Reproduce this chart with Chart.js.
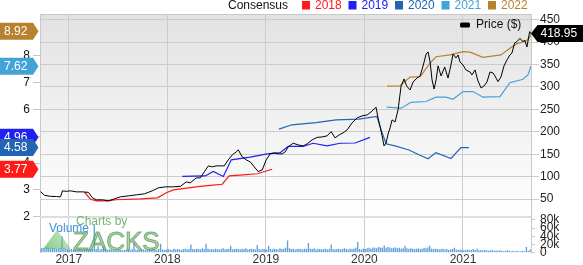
<!DOCTYPE html>
<html>
<head>
<meta charset="utf-8">
<script src="https://cdn.jsdelivr.net/npm/chart.js@4.4.0/dist/chart.umd.min.js"></script>
<style>
  html, body { margin: 0; padding: 0; background: #fff; }
  canvas { display: block; }
</style>
</head>
<body>
<canvas id="chart" width="583" height="265"></canvas>
<script>
/* ---------- data (x = decimal year) ---------- */

const yearTicks = [2017, 2018, 2019, 2020, 2021];
const priceTicks = [50, 100, 150, 200, 250, 300, 350, 400, 450];
const epsTicks = [2, 3, 4, 5, 6, 7, 8];
const volTicks = [0, 20000, 40000, 60000, 80000];

const priceX = [2016.713, 2016.754, 2016.815, 2016.875, 2016.916, 2016.936, 2016.977, 2017.017, 2017.078, 2017.139,
  2017.2, 2017.24, 2017.281, 2017.342, 2017.403, 2017.464, 2017.524, 2017.605, 2017.686, 2017.767,
  2017.848, 2017.909, 2017.98, 2018.051, 2018.132, 2018.193, 2018.233, 2018.294, 2018.335, 2018.375,
  2018.416, 2018.456, 2018.497, 2018.537, 2018.578, 2018.618, 2018.659, 2018.699, 2018.72, 2018.76,
  2018.801, 2018.841, 2018.882, 2018.922, 2018.963, 2019.003, 2019.044, 2019.084, 2019.125, 2019.165,
  2019.196, 2019.226, 2019.277, 2019.327, 2019.378, 2019.419, 2019.469, 2019.52, 2019.571, 2019.621,
  2019.662, 2019.702, 2019.743, 2019.783, 2019.824, 2019.874, 2019.925, 2019.976, 2020.027, 2020.067,
  2020.098, 2020.118, 2020.138, 2020.159, 2020.179, 2020.199, 2020.22, 2020.24, 2020.26, 2020.28,
  2020.311, 2020.341, 2020.372, 2020.402, 2020.428, 2020.463, 2020.494, 2020.534, 2020.565, 2020.595,
  2020.626, 2020.646, 2020.666, 2020.686, 2020.707, 2020.727, 2020.747, 2020.778, 2020.814, 2020.848,
  2020.878, 2020.899, 2020.929, 2020.95, 2020.97, 2021.0, 2021.03, 2021.071, 2021.091, 2021.122,
  2021.152, 2021.183, 2021.213, 2021.243, 2021.274, 2021.304, 2021.324, 2021.355, 2021.385, 2021.416,
  2021.446, 2021.476, 2021.497, 2021.524, 2021.547, 2021.578, 2021.608, 2021.625, 2021.649, 2021.676,
  2021.689];
const priceY = [66.8, 58.4, 56.1, 55.7, 55.0, 68.4, 67.3, 68.4, 66.1, 66.1,
  65.0, 52.8, 48.3, 48.3, 46.1, 50.6, 55.0, 57.2, 59.5, 61.7,
  68.4, 75.1, 77.3, 77.3, 78.4, 88.4, 86.2, 97.3, 97.3, 110.7,
  124.1, 121.8, 124.1, 124.1, 124.1, 137.4, 148.6, 155.2, 159.7, 144.1,
  137.4, 133.0, 121.8, 111.4, 115.1, 137.4, 150.8, 153.0, 150.8, 150.8,
  155.2, 166.4, 174.6, 170.8, 168.6, 173.0, 182.0, 187.5, 188.6, 190.9,
  200.4, 186.4, 193.1, 197.6, 204.2, 219.8, 231.0, 235.4, 237.6, 244.3,
  251.0, 254.8, 231.0, 210.9, 190.9, 168.6, 175.3, 195.3, 208.7, 226.5,
  222.0, 248.8, 302.2, 317.8, 302.2, 293.3, 311.1, 320.0, 324.5, 346.8,
  373.5, 378.0, 355.7, 315.6, 295.5, 315.6, 346.8, 324.5, 344.5, 320.0,
  349.0, 373.5, 364.6, 371.3, 355.7, 349.0, 337.9, 333.4, 326.7, 337.9,
  313.4, 297.8, 302.2, 311.1, 333.4, 331.2, 324.5, 311.8, 322.3, 346.8,
  360.1, 371.3, 375.7, 398.0, 400.9, 408.5, 400.9, 404.7, 389.1, 423.2,
  418.95];

// consensus EPS estimates per fiscal year
const eps2018X = [2017.16, 2017.22, 2017.281, 2017.403, 2017.474, 2017.727, 2017.899, 2017.99, 2018.061,
  2018.233, 2018.335, 2018.436, 2018.557, 2018.628, 2018.77, 2018.912, 2019.064];
const eps2018Y = [2.91, 2.65, 2.59, 2.59, 2.63, 2.66, 2.70, 2.89, 3.00, 3.08, 3.13, 3.17, 3.21, 3.52, 3.56, 3.60, 3.77];

const eps2019X = [2018.152, 2018.385, 2018.466, 2018.568, 2018.649, 2018.841, 2019.013, 2019.145, 2019.226,
  2019.378, 2019.479, 2019.621, 2019.753, 2019.905, 2020.057];
const eps2019Y = [3.50, 3.52, 3.69, 3.50, 4.12, 4.22, 4.34, 4.39, 4.62, 4.62, 4.74, 4.64, 4.74, 4.75, 4.96];

const eps2020X = [2019.132, 2019.264, 2019.508, 2019.711, 2019.944, 2020.127, 2020.169, 2020.22, 2020.31,
  2020.452, 2020.553, 2020.645, 2020.726, 2020.878, 2020.979, 2021.06];
const eps2020Y = [5.27, 5.43, 5.51, 5.61, 5.64, 5.74, 5.24, 4.72, 4.64, 4.49, 4.31, 4.16, 4.39, 4.17, 4.58, 4.58];

const eps2021X = [2020.225, 2020.372, 2020.473, 2020.625, 2020.726, 2020.827, 2020.899, 2021.0, 2021.101,
  2021.203, 2021.375, 2021.476, 2021.608, 2021.659, 2021.689];
const eps2021Y = [6.09, 6.05, 6.27, 6.30, 6.46, 6.46, 6.38, 6.67, 6.67, 6.46, 6.48, 7.00, 7.13, 7.29, 7.62];

const eps2022X = [2020.23, 2020.361, 2020.463, 2020.565, 2020.666, 2020.727, 2020.869, 2021.0, 2021.071,
  2021.203, 2021.385, 2021.476, 2021.543, 2021.645, 2021.686, 2021.689];
const eps2022Y = [6.87, 6.88, 7.21, 7.23, 7.73, 7.97, 8.04, 8.16, 8.14, 7.95, 8.04, 8.29, 8.45, 8.57, 8.75, 8.92];

// weekly volume, thousands of shares
const volStart = 2016.72;
const volume = [
  11, 12, 10, 13, 11, 10, 12, 11, 9, 10, 12, 40, 11,
  10, 9, 8, 9, 7, 8, 7, 9, 8, 7, 8, 9, 7,
  8, 9, 68, 9, 16, 8, 9, 17, 8, 7, 9, 8, 7,
  7, 6, 8, 7, 6, 7, 8, 7, 6, 9, 24, 8, 7,
  6, 7, 8, 7, 6, 8, 7, 9, 8, 7, 9, 22, 8,
  7, 8, 9, 8, 7, 10, 8, 9, 8, 7, 9, 10, 8,
  9, 20, 9, 8, 10, 9, 8, 11, 9, 22, 10, 8, 9,
  8, 10, 9, 8, 9, 11, 8, 9, 10, 17, 8, 9, 10,
  9, 8, 10, 9, 11, 8, 9, 10, 9, 8, 19, 9, 8,
  10, 9, 8, 17, 9, 8, 10, 9, 8, 11, 9, 10, 12,
  30, 11, 9, 10, 8, 9, 10, 9, 8, 10, 9, 24, 10,
  9, 11, 8, 10, 9, 8, 9, 10, 8, 9, 20, 9, 8,
  9, 10, 8, 9, 11, 9, 8, 10, 9, 10, 12, 26, 9,
  8, 10, 9, 11, 12, 10, 13, 12, 11, 14, 13, 12, 18,
  12, 14, 13, 11, 12, 13, 11, 12, 10, 11, 17, 11, 10,
  11, 10, 9, 10, 11, 9, 10, 12, 11, 13, 17, 10, 9,
  10, 9, 8, 9, 10, 8, 9, 7, 8, 9, 12, 8, 7,
  8, 7, 6, 7, 8, 6, 7, 9, 7, 10, 6, 7, 6,
  7, 6, 5, 6, 7, 5, 6, 5, 6, 5, 4, 5, 6,
  5, 4, 5, 4, 5, 4, 4, 5, 4, 14, 5, 8
];

/* ---------- series setup ---------- */

const zip = (xs, ys) => xs.map((x, i) => ({ x, y: ys[i] }));

const epsSeries = [
  { label: '2018', color: '#ff1a1a', x: eps2018X, y: eps2018Y },
  { label: '2019', color: '#2020f2', x: eps2019X, y: eps2019Y },
  { label: '2020', color: '#2464b4', x: eps2020X, y: eps2020Y },
  { label: '2021', color: '#42a3d8', x: eps2021X, y: eps2021Y },
  { label: '2022', color: '#b8812f', x: eps2022X, y: eps2022Y }
];

const FONT = '"Liberation Sans", Arial, sans-serif';
Chart.defaults.font.family = FONT;
Chart.defaults.font.size = 12;

const datasets = [
  {
    type: 'line', label: 'Price ($)', data: zip(priceX, priceY), yAxisID: 'yPrice',
    borderColor: '#000', borderWidth: 1, pointRadius: 0, tension: 0
  },
  ...epsSeries.map(s => ({
    type: 'line', label: s.label, data: zip(s.x, s.y), yAxisID: 'yEps',
    borderColor: s.color, borderWidth: 1.2, pointRadius: 0, tension: 0
  })),
  {
    type: 'bar', label: 'Volume', yAxisID: 'yVol',
    data: volume.map((v, i) => ({ x: volStart + i / 52, y: v * 1000 })),
    backgroundColor: '#5e9fdc', barPercentage: 1, categoryPercentage: 0.7
  }
];

/* ---------- drawing helpers ---------- */

function leftPill(ctx, y, text, color) {
  ctx.fillStyle = color;
  ctx.beginPath();
  ctx.moveTo(0, y - 8.5);
  ctx.lineTo(33, y - 8.5);
  ctx.lineTo(38.5, y);
  ctx.lineTo(33, y + 8.5);
  ctx.lineTo(0, y + 8.5);
  ctx.closePath();
  ctx.fill();
  ctx.fillStyle = '#fff';
  ctx.textAlign = 'left';
  ctx.textBaseline = 'middle';
  ctx.fillText(text, 4, y + 0.5);
}

function rightPill(ctx, x, y, text) {
  ctx.fillStyle = '#000';
  ctx.beginPath();
  ctx.moveTo(x, y);
  ctx.lineTo(x + 6.5, y - 8.5);
  ctx.lineTo(583, y - 8.5);
  ctx.lineTo(583, y + 8.5);
  ctx.lineTo(x + 6.5, y + 8.5);
  ctx.closePath();
  ctx.fill();
  ctx.fillStyle = '#fff';
  ctx.textAlign = 'left';
  ctx.textBaseline = 'middle';
  ctx.fillText(text, x + 9.5, y + 0.5);
}

const decorations = {
  id: 'decorations',
  beforeDraw(chart) {
    const { ctx, chartArea: a, scales } = chart;
    const p = scales.yPrice;
    const g = ctx.createLinearGradient(0, p.top, 0, p.bottom);
    g.addColorStop(0, '#e2e2e2');
    g.addColorStop(1, '#ffffff');
    ctx.save();
    ctx.fillStyle = g;
    ctx.fillRect(a.left, p.top, a.right - a.left, p.bottom - p.top);
    ctx.restore();
  },
  beforeDatasetsDraw(chart) {
    const { ctx, chartArea: a, scales } = chart;
    const p = scales.yPrice;
    ctx.save();
    ctx.strokeStyle = '#c8c8c8';
    ctx.lineWidth = 1;
    ctx.beginPath();
    ctx.moveTo(a.left, Math.round(a.top) + 0.5);
    ctx.lineTo(a.right, Math.round(a.top) + 0.5);
    ctx.stroke();
    ctx.strokeStyle = '#dedede';
    ctx.lineWidth = 2;
    ctx.beginPath();
    ctx.moveTo(a.left, Math.round(p.bottom));
    ctx.lineTo(a.right, Math.round(p.bottom));
    ctx.stroke();
    ctx.restore();
  },
  afterDatasetsDraw(chart) {
    const { ctx } = chart;
    ctx.save();
    // Zacks watermark
    const tg = ctx.createLinearGradient(43, 249, 70, 230);
    tg.addColorStop(0, 'rgba(60,165,60,0.6)');
    tg.addColorStop(1, 'rgba(140,210,140,0.5)');
    ctx.fillStyle = tg;
    ctx.beginPath();
    ctx.moveTo(43, 249);
    ctx.lineTo(57, 230);
    ctx.lineTo(71, 249);
    ctx.closePath();
    ctx.fill();
    ctx.fillStyle = 'rgba(80,160,80,0.8)';
    ctx.font = '12px ' + FONT;
    ctx.textAlign = 'left';
    ctx.textBaseline = 'middle';
    ctx.fillText('Charts by', 76, 222);
    ctx.font = '26px ' + FONT;
    ctx.textBaseline = 'alphabetic';
    ctx.fillStyle = 'rgba(110,180,110,0.55)';
    ctx.fillText('ZACKS', 73, 250);
    ctx.strokeStyle = 'rgba(60,130,60,0.6)';
    ctx.lineWidth = 1;
    ctx.strokeText('ZACKS', 73, 250);
    ctx.fillStyle = '#3d8fd6';
    ctx.font = '12px ' + FONT;
    ctx.textBaseline = 'middle';
    ctx.fillText('Volume', 49, 228.5);
    ctx.restore();
  },
  afterDraw(chart) {
    const { ctx, chartArea: a, scales } = chart;
    ctx.save();
    ctx.font = '12px ' + FONT;
    // consensus legend
    ctx.textBaseline = 'middle';
    ctx.textAlign = 'left';
    ctx.fillStyle = '#111';
    ctx.fillText('Consensus', 228, 5.5);
    epsSeries.forEach((s, i) => {
      const x = 302 + i * 46.5;
      ctx.fillStyle = s.color;
      ctx.fillRect(x, 1, 8, 8.5);
      ctx.fillText(s.label, x + 13, 5.5);
    });
    // price legend
    ctx.fillStyle = '#000';
    ctx.beginPath();
    ctx.roundRect(460, 22.5, 10, 5, 1.5);
    ctx.fill();
    ctx.fillStyle = '#111';
    ctx.fillText('Price ($)', 476, 25);
    // last-value pills
    epsSeries.forEach(s => {
      const last = s.y[s.y.length - 1];
      leftPill(ctx, scales.yEps.getPixelForValue(last), last.toFixed(2), s.color);
    });
    const lastPrice = priceY[priceY.length - 1];
    rightPill(ctx, a.right, scales.yPrice.getPixelForValue(lastPrice), lastPrice.toFixed(2));
    ctx.restore();
  }
};

/* ---------- chart ---------- */

new Chart(document.getElementById('chart'), {
  type: 'line',
  data: { datasets },
  plugins: [decorations],
  options: {
    responsive: false,
    animation: false,
    devicePixelRatio: 1,
    layout: { padding: { top: 14, left: 0, right: 0, bottom: 0 } },
    plugins: { legend: { display: false }, tooltip: { enabled: false } },
    scales: {
      x: {
        type: 'linear', min: 2016.708, max: 2021.69, offset: false,
        afterBuildTicks: s => { s.ticks = yearTicks.map(v => ({ value: v })); },
        afterFit: s => { s.height = 12; },
        ticks: { color: '#333', padding: 0, autoSkip: false, maxRotation: 0, callback: v => String(v) },
        grid: { color: '#cccccc', drawTicks: false, offset: false },
        border: { display: false }
      },
      yEps: {
        type: 'linear', position: 'left', min: 0.649, max: 9.567,
        afterBuildTicks: s => { s.ticks = epsTicks.map(v => ({ value: v })); },
        afterFit: s => { s.width = 40; },
        ticks: { color: '#111', padding: 3, autoSkip: false, callback: v => String(v) },
        grid: { drawOnChartArea: false, color: '#c8c8c8', tickLength: 7 },
        border: { color: '#c8c8c8' }
      },
      yPrice: {
        type: 'linear', position: 'right', stack: 'right', stackWeight: 203.5,
        min: 9.35, max: 462.6,
        afterBuildTicks: s => { s.ticks = priceTicks.map(v => ({ value: v })); },
        afterFit: s => { s.width = 52; },
        ticks: { color: '#222', padding: 1, autoSkip: false, callback: v => String(v) },
        grid: { color: '#cccccc', tickLength: 8 },
        border: { color: '#c8c8c8' }
      },
      yVol: {
        type: 'linear', position: 'right', stack: 'right', stackWeight: 35.5,
        min: 0, max: 86000,
        afterBuildTicks: s => { s.ticks = volTicks.map(v => ({ value: v })); },
        afterFit: s => { s.width = 52; },
        ticks: { color: '#222', padding: 5, autoSkip: false, callback: v => v === 0 ? '0' : (v / 1000) + 'k' },
        grid: { drawOnChartArea: false, color: '#c8c8c8', tickLength: 4 },
        border: { color: '#c8c8c8' }
      }
    }
  }
});
</script>
</body>
</html>
